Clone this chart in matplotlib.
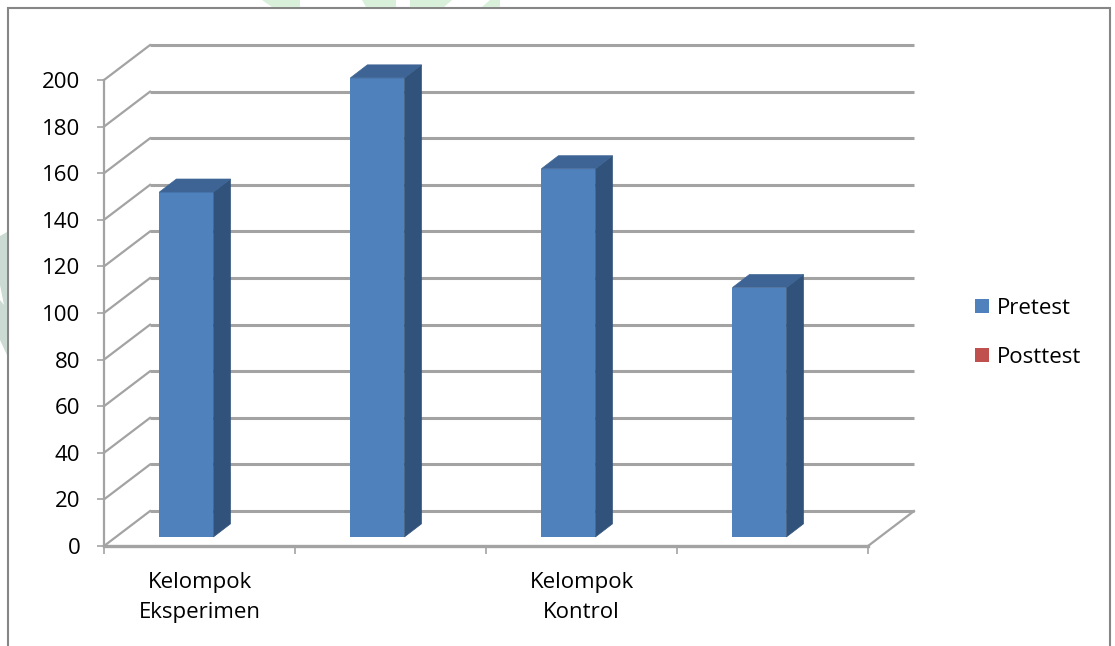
import matplotlib.pyplot as plt
from matplotlib.patches import Polygon, Rectangle, Patch

plt.rcParams['font.family'] = ['Open Sans', 'DejaVu Sans']

# data
categories = ['Kelompok\nEksperimen', '', 'Kelompok\nKontrol', '']
pretest = [148, 197, 158, 107]
posttest = []  # posttest column is empty
series_names = ['Pretest', 'Posttest']
y_ticks = list(range(0, 201, 20))

blue_front = '#4f81bd'
blue_side = '#31527a'
blue_top = '#3d6494'
red = '#c0504d'
grid_col = '#a3a3a3'

# oblique depth of the floor (in data units)
DX, DY = 0.241, 15.0
# bar depth and its position inside the floor
D0 = 0.26
BDX, BDY = 0.089, 5.6
BAR_W = 0.283
BAR_OFF = 0.29

W, H = 1115, 646
fig = plt.figure(figsize=(W / 100, H / 100), dpi=100)
ax = fig.add_axes([104 / W, 100 / H, 764 / W, 466 / H])
ax.set_xlim(0, 4)
ax.set_ylim(0, 200)
ax.patch.set_alpha(0)

# back wall gridlines + left wall diagonals
for v in y_ticks:
    ax.plot([DX, 4 + DX], [v + DY, v + DY], color=grid_col, lw=2.2,
            clip_on=False, zorder=1, solid_capstyle='butt')
    ax.plot([0, DX], [v, v + DY], color=grid_col, lw=1.6, clip_on=False, zorder=1)
# floor right edge
ax.plot([4, 4 + DX], [0, DY], color=grid_col, lw=1.6, clip_on=False, zorder=1)

# bars
base = D0 * DY
lefts = [i + BAR_OFF for i in range(len(pretest))]
bars = ax.bar(lefts, pretest, width=BAR_W, bottom=base, align='edge',
              color=blue_front, edgecolor='none', zorder=3)
for b in bars:
    b.set_clip_on(False)
for x0, v in zip(lefts, pretest):
    x1 = x0 + BAR_W
    top = base + v
    side = [(x1, base), (x1 + BDX, base + BDY), (x1 + BDX, top + BDY), (x1, top)]
    lid = [(x0, top), (x0 + BDX, top + BDY), (x1 + BDX, top + BDY), (x1, top)]
    ax.add_patch(Polygon(side, closed=True, facecolor=blue_side, edgecolor=blue_side,
                         lw=0.5, zorder=3, clip_on=False))
    ax.add_patch(Polygon(lid, closed=True, facecolor=blue_top, edgecolor=blue_top,
                         lw=0.5, zorder=3, clip_on=False))
if posttest:
    ax.bar(range(len(posttest)), posttest, color=red)

# axes lines and ticks
for s in ['top', 'right']:
    ax.spines[s].set_visible(False)
ax.spines['left'].set_color(grid_col)
ax.spines['left'].set_linewidth(1.6)
ax.spines['bottom'].set_color(grid_col)
ax.spines['bottom'].set_linewidth(2.4)
ax.spines['left'].set_zorder(4)
ax.spines['bottom'].set_zorder(4)

ax.set_yticks(y_ticks)
ax.tick_params(axis='y', length=5, width=1.2, color=grid_col, pad=12,
               labelsize=16, labelcolor='black')
ax.set_xticks(range(5))
ax.set_xticklabels([''] * 5)
ax.tick_params(axis='x', length=6, width=1.2, color=grid_col, direction='out')
ax.set_xticks([i + 0.5 for i in range(len(categories))], minor=True)
ax.set_xticklabels(categories, minor=True, fontsize=16, linespacing=1.55)
ax.tick_params(axis='x', which='minor', length=0, pad=19)

handles = [Patch(facecolor=blue_front, label=series_names[0]),
           Patch(facecolor=red, label=series_names[1])]
fig.legend(handles=handles, loc='upper left', bbox_to_anchor=(966 / W, 1 - 289 / H),
           frameon=False, fontsize=16, handlelength=0.62, handleheight=0.62,
           handletextpad=0.35, labelspacing=1.25, borderaxespad=0)

# chart frame
fig.add_artist(Rectangle((8 / W, -0.1), 1102 / W, 1.1 - 8 / H, transform=fig.transFigure,
                         fill=False, edgecolor='#868686', lw=1.5))

# faint page watermark peeking outside the frame
wm = [
    [(262, 0), (300, 0), (300, 7), (272, 7)],
    [(362, 0), (396, 0), (396, 7), (366, 7)],
    [(410, 0), (452, 0), (444, 7), (410, 7)],
    [(490, 0), (500, 0), (500, 7), (482, 7)],
]
for shape in wm:
    fig.add_artist(Polygon([(x / W, 1 - y / H) for x, y in shape], closed=True,
                           transform=fig.transFigure, facecolor='#d8efda',
                           edgecolor='none'))
fig.add_artist(Polygon([(x / W, 1 - y / H) for x, y in
                        [(0, 236), (7, 232), (7, 355), (0, 340), (0, 300), (4, 305), (0, 285)]],
                       closed=True, transform=fig.transFigure, facecolor='#cbdad2',
                       edgecolor='none'))

fig.savefig('out.png', dpi=100)
